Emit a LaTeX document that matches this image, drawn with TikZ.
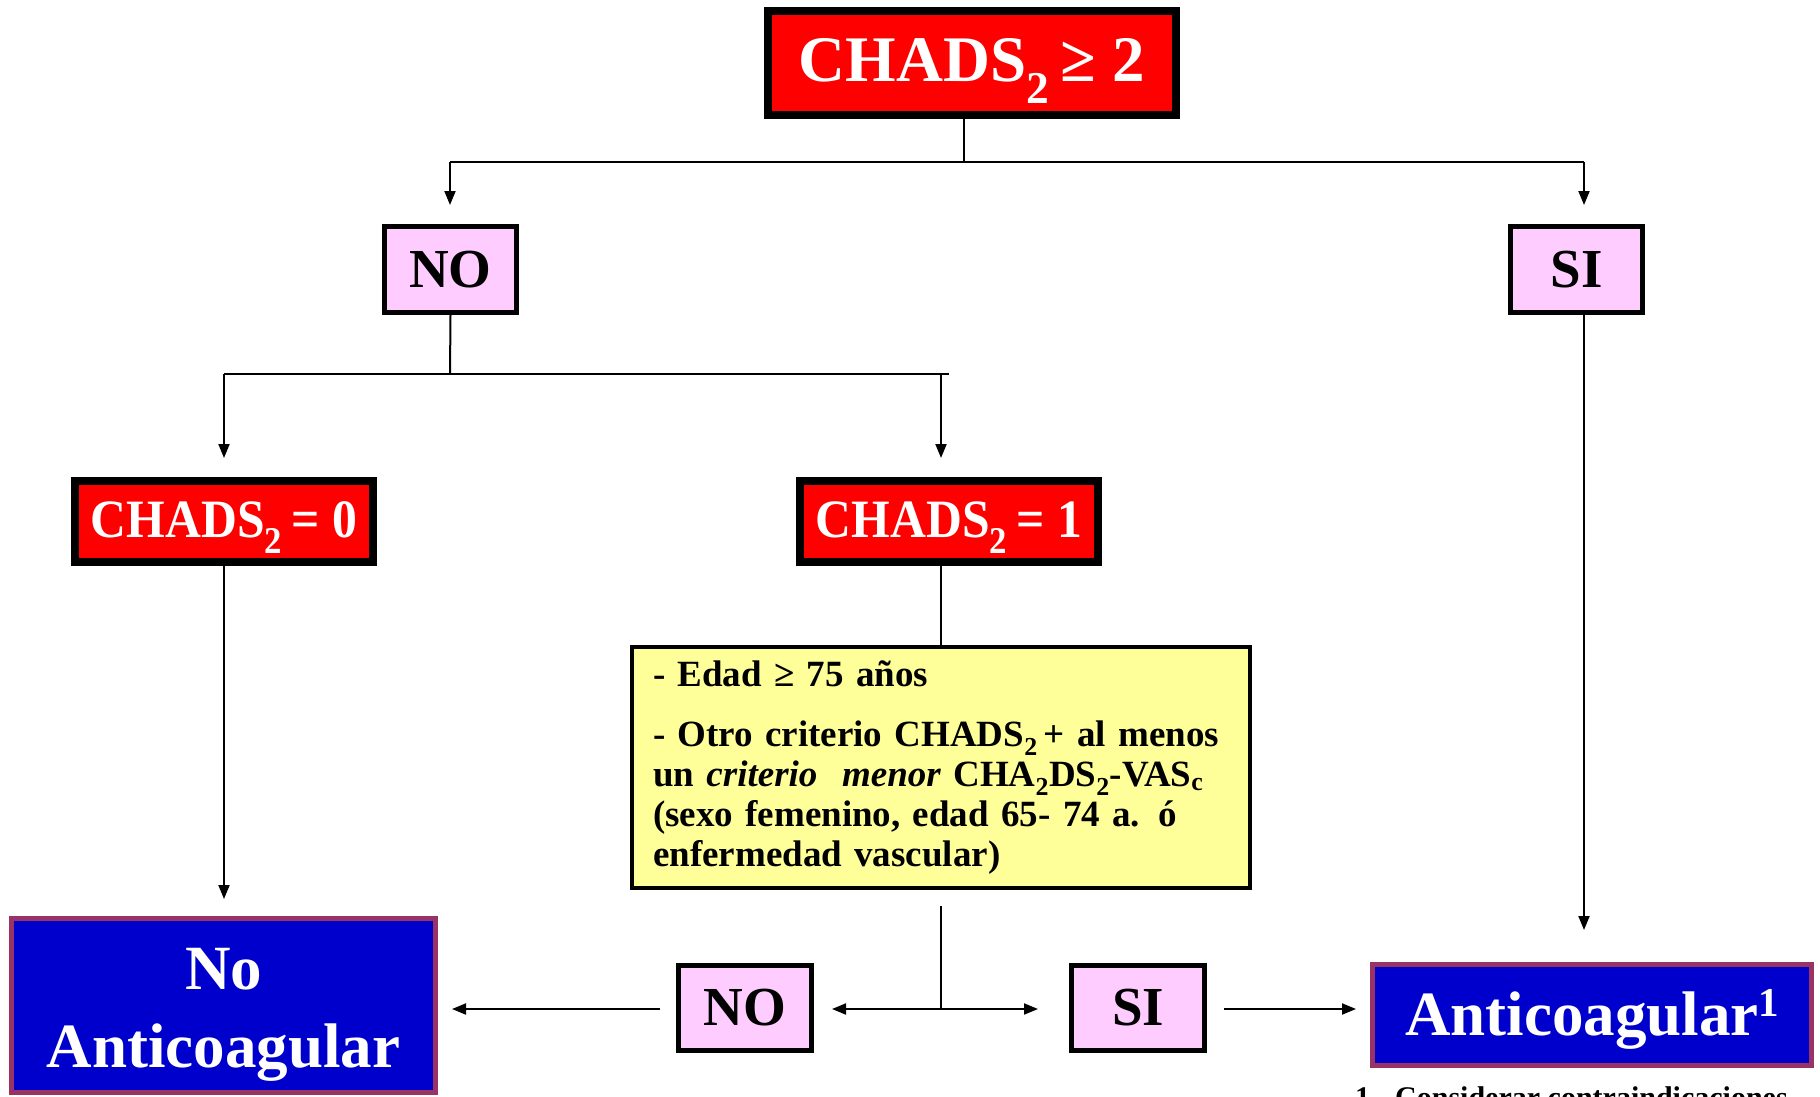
\documentclass[tikz,border=0pt]{standalone}
\usepackage{fontspec}
\setmainfont{Liberation Serif}
\newfontfamily\narrowserif[FakeStretch=0.92]{Liberation Serif}
\usetikzlibrary{arrows.meta}
\definecolor{cred}{HTML}{FF0000}
\definecolor{cpink}{HTML}{FFCCFF}
\definecolor{cyellow}{HTML}{FFFF99}
\definecolor{cblue}{HTML}{0000CC}
\definecolor{cpurple}{HTML}{993366}
\newcommand\supone{\raisebox{19pt}{\fontsize{41}{41}\selectfont 1}}
\begin{document}
\begin{tikzpicture}[x=1pt,y=-1pt,
  conn/.style={line width=2pt},
  arr/.style={conn,-{Triangle[length=14pt,width=11pt]}},
  redbox/.style={draw=black,line width=8pt,fill=cred,text=white,inner sep=0pt,
    font=\narrowserif\bfseries\fontsize{54}{60}\selectfont,minimum width=298pt,minimum height=81pt,
    text height=38pt,text depth=6pt},
  pinkbox/.style={draw=black,line width=5pt,fill=cpink,text=black,inner sep=0pt,
    font=\bfseries\fontsize{55}{60}\selectfont,minimum width=132pt,minimum height=86pt},
  bluebox/.style={draw=cpurple,line width=5pt,fill=cblue,text=white,inner sep=0pt,
    font=\bfseries\fontsize{63}{78}\selectfont,align=center},
  yellowbox/.style={draw=black,line width=4pt,fill=cyellow,text=black,inner xsep=21pt,inner ysep=0pt,
    font=\bfseries\fontsize{37}{40}\selectfont,align=left,text width=576pt,minimum width=618pt,minimum height=241pt},
  notetext/.style={font=\bfseries\fontsize{30}{34}\selectfont,inner sep=0pt}
]
\useasboundingbox (0,0) rectangle (1820,1097);

% nodes
\node[redbox,font=\bfseries\fontsize{65}{70}\selectfont,minimum width=408pt,minimum height=104pt,
  text height=46pt,text depth=8pt] (top) at (972,63) {CHADS\textsubscript{2}\,≥ 2};
\node[pinkbox] (NO1) at (450.5,269.5) {NO};
\node[pinkbox] (SI1) at (1576.5,269.5) {SI};
\node[redbox] (C0) at (224,521.5) {CHADS\textsubscript{2}\,= 0};
\node[redbox] (C1) at (949,521.5) {CHADS\textsubscript{2}\,= 1};
\node[yellowbox] (Y) at (941,767.5) {- Edad ≥ 75 años\\[20pt]
- Otro criterio CHADS\textsubscript{2}\,+ al menos\\
un \textit{criterio\ \ menor} CHA\textsubscript{2}DS\textsubscript{2}-VAS\textsubscript{c}\\
(sexo femenino, edad 65- 74 a. ó\\
enfermedad vascular)};
\node[pinkbox,minimum width=133pt,minimum height=85pt] (NO2) at (745,1008) {NO};
\node[pinkbox,minimum width=133pt,minimum height=85pt] (SI2) at (1138,1008) {SI};
\node[bluebox,minimum width=424pt,minimum height=174pt] (NA) at (223.5,1005.5) {\rule{0pt}{60pt}No\\Anticoagular};
\node[bluebox,minimum width=439pt,minimum height=101pt,text height=50pt,text depth=10pt] (A) at (1592,1015) {Anticoagular\supone};
\node[notetext,anchor=base west] (fn) at (1355,1107) {1.- Considerar contraindicaciones};

% connectors
\coordinate (j0) at (964,162);
\coordinate (jl) at (450,162);
\coordinate (jr) at (1584,162);
\draw[conn] (j0 |- top.south) -- (j0);
\draw[conn] (jl) -- (jr);
\draw[arr,shorten >=19pt] (jl) -- (jl |- NO1.north);
\draw[arr,shorten >=19pt] (jr) -- (jr |- SI1.north);

\coordinate (k0) at (450,374);
\coordinate (kl) at (224,374);
\coordinate (kr) at (949,374);
\coordinate (kc) at (941,374);
\draw[conn] (NO1.south) -- (k0);
\draw[conn] (kl) -- (kr);
\draw[arr,shorten >=19pt] (kl) -- (kl |- C0.north);
\draw[arr,shorten >=19pt] (kc) -- (kc |- C1.north);

\draw[arr,shorten >=17pt] (C0.south) -- (C0.south |- NA.north);
\draw[conn] (Y.north |- C1.south) -- (Y.north);

\coordinate (m) at (941,1009);
\draw[conn,shorten <=16pt] (Y.south) -- (m);
\draw[arr,shorten >=18pt] (m) -- (NO2.east |- m);
\draw[arr,shorten >=31pt] (m) -- (SI2.west |- m);
\draw[arr,shorten <=16pt,shorten >=14pt] (NO2.west |- m) -- (NA.east |- m);
\draw[arr,shorten <=17pt,shorten >=14pt] (SI2.east |- m) -- (A.west |- m);
\draw[arr,shorten >=32pt] (jr |- SI1.south) -- (jr |- A.north);
\end{tikzpicture}
\end{document}
